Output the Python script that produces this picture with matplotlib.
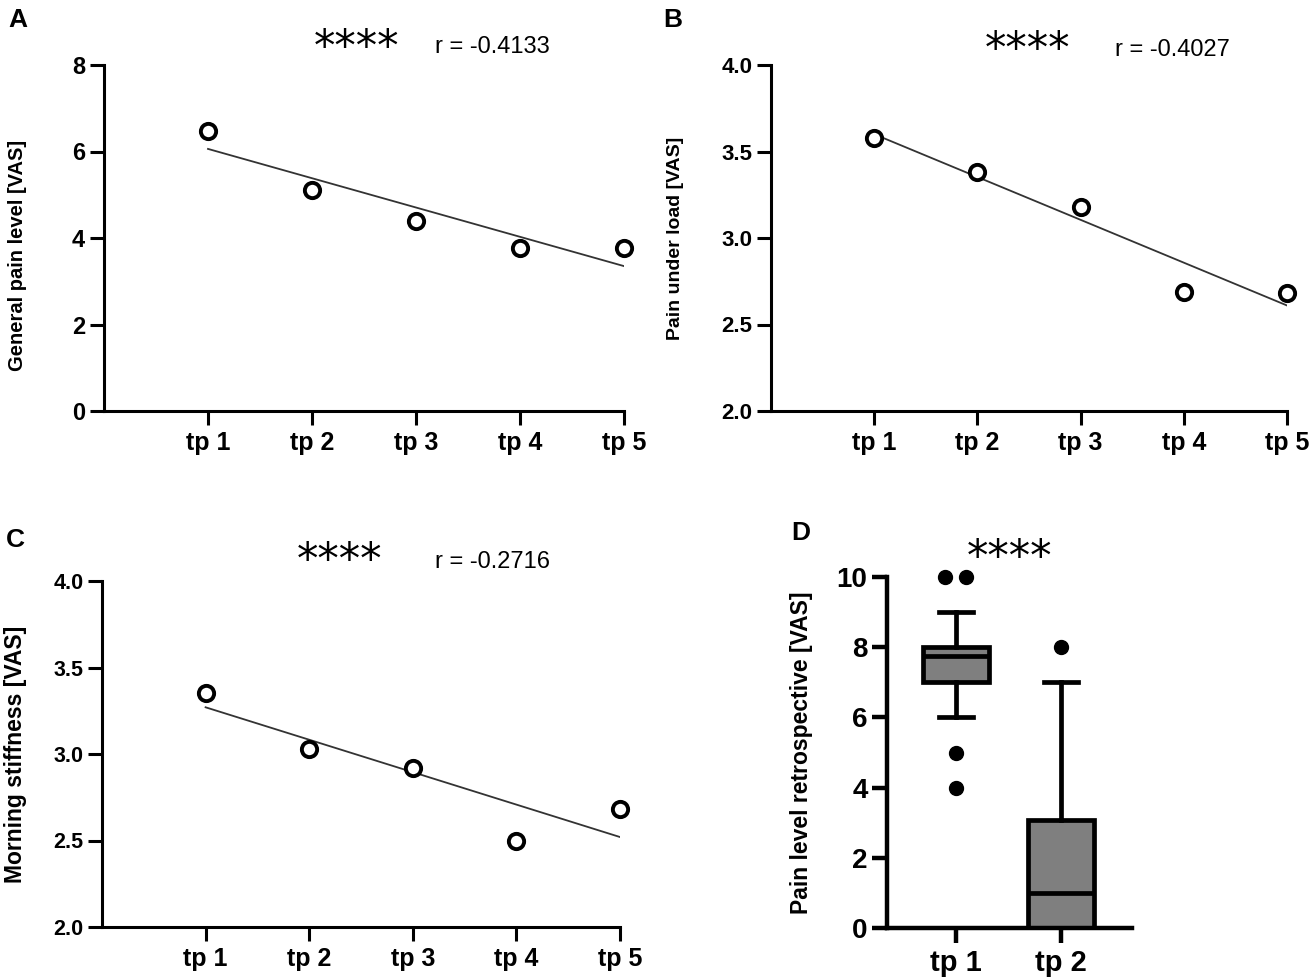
import matplotlib
matplotlib.use("Agg")
import matplotlib.pyplot as plt
import numpy as np

W, H = 1311, 977

# ---------------- data ----------------
timepoints = ["tp 1", "tp 2", "tp 3", "tp 4", "tp 5"]
general_pain = [6.47, 5.11, 4.39, 3.78, 3.78]
general_fit = [6.06, 3.35]
pain_load = [3.58, 3.38, 3.18, 2.69, 2.68]
load_fit = [3.60, 2.61]
morning_stiff = [3.35, 3.03, 2.92, 2.50, 2.68]
stiff_fit = [3.27, 2.52]
r_values = ["r = -0.4133", "r = -0.4027", "r = -0.2716"]

retro_labels = ["tp 1", "tp 2"]
retro_q1 = [7.0, 0.0]
retro_med = [7.75, 1.0]
retro_q3 = [8.0, 3.07]
retro_wlo = [6.0, 0.0]
retro_whi = [9.0, 7.0]
retro_fliers = [[10, 10, 5, 4], [8]]
flier_offsets = [[-0.1, 0.1, 0.0, 0.0], [0.0]]

# ---------------- style ----------------
base = ["Liberation Sans", "DejaVu Sans"]
plt.rcParams["font.family"] = base

fig = plt.figure(figsize=(W / 100, H / 100), dpi=100)


def px_axes(left, right, top, bottom):
    return fig.add_axes([left / W, 1 - bottom / H, (right - left) / W, (bottom - top) / H])


def style_axes(ax, lw=2.2, ticklen=10, ysize=17, xsize=18, ypad=3.5, xpad=4.5):
    for s in ["top", "right"]:
        ax.spines[s].set_visible(False)
    for s in ["left", "bottom"]:
        ax.spines[s].set_linewidth(lw)
    ax.tick_params(direction="out", width=lw, length=ticklen)
    ax.tick_params(axis="y", labelsize=ysize, pad=ypad)
    ax.tick_params(axis="x", labelsize=xsize, pad=xpad)
    for lab in ax.get_xticklabels() + ax.get_yticklabels():
        lab.set_fontweight("bold")


def scatter_panel(ax, values, fit, yticks, ylim, ylabel, fmt, ysize, labsize, labx, laby=0.5):
    x = np.arange(1, len(timepoints) + 1)
    ax.plot([x[0], x[-1]], fit, color="#333333", lw=1.3, zorder=2)
    ax.plot(x, values, "o", ms=11, mfc="white", mec="black", mew=2.8, zorder=3, clip_on=False)
    ax.set_xlim(0, 5)
    ax.set_ylim(*ylim)
    ax.set_xticks(x)
    ax.set_xticklabels(timepoints)
    ax.set_yticks(yticks)
    ax.set_yticklabels([fmt.format(v) for v in yticks])
    style_axes(ax, ysize=ysize)
    ax.set_ylabel(ylabel, fontsize=labsize, fontweight="bold")
    ax.yaxis.set_label_coords(labx, laby)


axA = px_axes(104, 624, 65, 411)
scatter_panel(axA, general_pain, general_fit, [0, 2, 4, 6, 8], (0, 8),
              "General pain level [VAS]", "{:g}", 17, 14.5, -0.149, 0.45)

axB = px_axes(771, 1287, 65, 411)
scatter_panel(axB, pain_load, load_fit, [2.0, 2.5, 3.0, 3.5, 4.0], (2, 4),
              "Pain under load [VAS]", "{:.1f}", 16, 14, -0.168)

axC = px_axes(102, 620, 581, 927)
scatter_panel(axC, morning_stiff, stiff_fit, [2.0, 2.5, 3.0, 3.5, 4.0], (2, 4),
              "Morning stiffness [VAS]", "{:.1f}", 15.5, 16.5, -0.144)

# ---------------- panel D ----------------
axD = px_axes(887, 1132, 577, 928)
stats = []
for i in range(len(retro_labels)):
    stats.append(dict(med=retro_med[i], q1=retro_q1[i], q3=retro_q3[i],
                      whislo=retro_wlo[i], whishi=retro_whi[i], fliers=[],
                      label=retro_labels[i]))
pos = [1, 2]
axD.bxp(stats, positions=pos, widths=0.63, capwidths=0.33, patch_artist=True,
        showfliers=False,
        boxprops=dict(facecolor="#7f7f7f", edgecolor="black", linewidth=3.4),
        medianprops=dict(color="black", linewidth=3.4),
        whiskerprops=dict(color="black", linewidth=3.4),
        capprops=dict(color="black", linewidth=3.4))
for i, fl in enumerate(retro_fliers):
    axD.plot(np.array(flier_offsets[i]) + pos[i], fl, "o", color="black", ms=10,
             zorder=4, clip_on=False)
axD.set_xlim(0.343, 2.676)
axD.set_ylim(0, 10)
axD.set_yticks([0, 2, 4, 6, 8, 10])
axD.set_xticks(pos)
axD.set_xticklabels(retro_labels)
style_axes(axD, lw=3.2, ticklen=11, ysize=20, xsize=21, ypad=3, xpad=4)
axD.set_ylabel("Pain level retrospective [VAS]", fontsize=16.5, fontweight="bold")
axD.yaxis.set_label_coords(-0.303, 0.5)

# ---------------- annotations ----------------
def ftext(x, y, s, **kw):
    fig.text(x / W, 1 - y / H, s, **kw)

for (lx, ly, letter) in [(8, 20, "A"), (663, 20, "B"), (6, 540, "C"), (791, 533, "D")]:
    ftext(lx, ly, letter, fontsize=19, fontweight="bold", ha="left", va="center")

for (sx, sy) in [(357, 40), (1028, 42), (340, 553), (1010, 550)]:
    ftext(sx, sy + 8, "****", fontsize=31, ha="center", va="center", family=["DejaVu Sans"])

for (rx, ry), r in zip([(435, 47), (1115, 50), (435, 562)], r_values):
    ftext(rx, ry, r, fontsize=17, ha="left", va="center")

fig.savefig("out.png", dpi=100)
